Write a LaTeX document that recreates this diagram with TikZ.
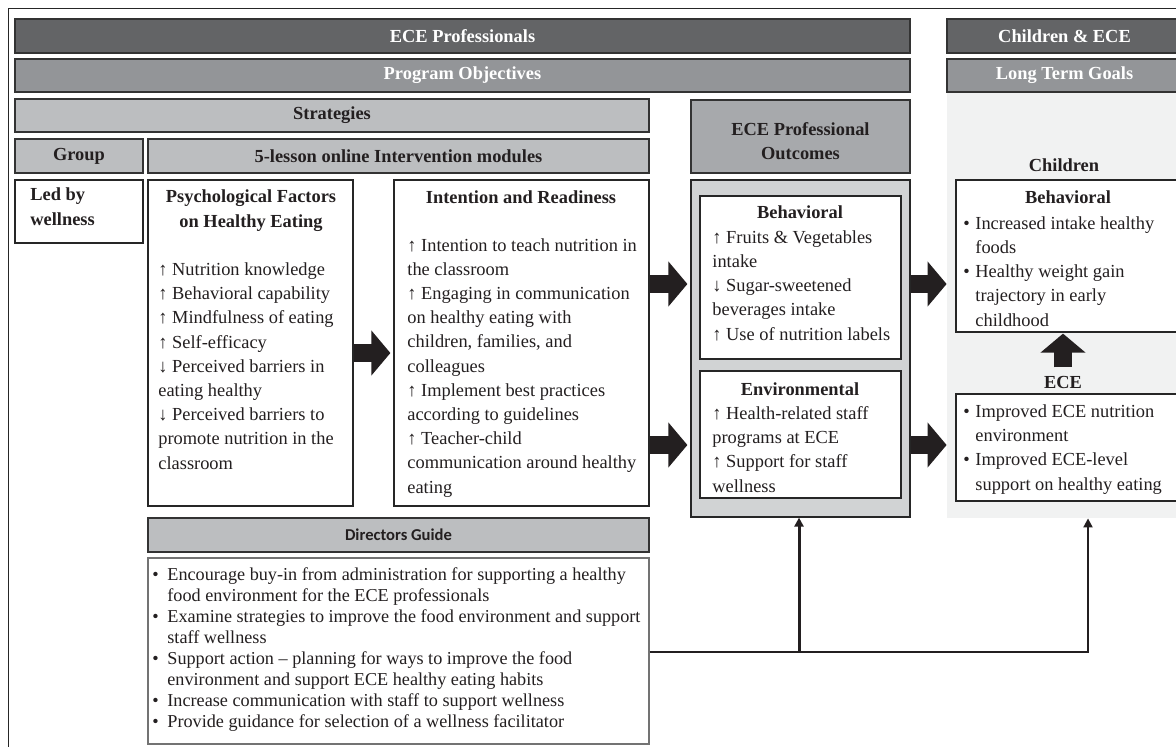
\documentclass[tikz,border=0pt]{standalone}
\usepackage{fontspec}
\setmainfont{Liberation Serif}
\newfontfamily\guidefont{Carlito}
\usepackage{tikz}
\usetikzlibrary{fit,arrows.meta}
\definecolor{bardark}{RGB}{99,100,102}
\definecolor{barmid}{RGB}{147,149,152}
\definecolor{barlight}{RGB}{188,190,192}
\definecolor{bartitle}{RGB}{167,169,172}
\definecolor{outfill}{RGB}{209,211,212}
\definecolor{goalfill}{RGB}{241,242,242}
\definecolor{ink}{RGB}{35,31,32}
\newcommand\bitem{\makebox[7.5pt][l]{•}}
\newcommand\bskip{\hspace*{7.5pt}}
\newcommand\citem{\makebox[6pt][l]{•}}
\newcommand\cskip{\hspace*{6pt}}
\begin{document}
\fontsize{9.2pt}{12.1pt}\selectfont
\begin{tikzpicture}[x=0.5pt, y=-0.5pt, text=ink,
  bar/.style={draw=black!80, line width=0.8pt, inner sep=0pt},
  darkbar/.style={bar, fill=bardark},
  midbar/.style={bar, fill=barmid},
  lightbar/.style={bar, fill=barlight},
  bartext/.style={inner sep=0pt, font=\bfseries},
  whitetext/.style={bartext, text=white},
  panel/.style={draw=black!85, line width=0.6pt, fill=white, inner sep=0pt},
  body/.style={anchor=base west, align=left, inner sep=0pt},
  title/.style={anchor=base, align=center, inner sep=0pt, font=\bfseries},
  blockarrow/.style={draw=ink, line width=9pt, -{Triangle[width=22pt,length=9.5pt]}},
  link/.style={draw=ink, line width=1pt, -{Triangle[width=4.5pt,length=4.5pt]}}]
\useasboundingbox (0,0) rectangle (1176,746);
\clip (0,0) rectangle (1176,746);
\draw[black!85, line width=0.5pt] (8,8) rectangle (1190,760);

\node[fill=goalfill, inner sep=0pt, fit={(947,92) (1182,518)}] (region) {};
\node[darkbar, fit={(15,19) (910,53)}, label={[whitetext]center:ECE Professionals}] (prof) {};
\node[darkbar, fit={(947,19) (1182,53)}, label={[whitetext]center:Children \& ECE}] (kids) {};
\node[midbar, fit={(15,59) (910,92)}, label={[whitetext]center:Program Objectives}] (objectives) {};
\node[midbar, fit={(947,59) (1182,92)}, label={[whitetext]center:Long Term Goals}] (goals) {};
\node[lightbar, fit={(15,99) (649,132)}, label={[bartext]center:Strategies}] (strategies) {};
\node[bar, fill=bartitle, fit={(691,100) (910,173)}, label={[bartext, align=center, yshift=-2.5pt]center:{ECE Professional\\Outcomes}}] (outtitle) {};
\node[lightbar, fit={(15,139) (143,173)}, label={[bartext]center:Group}] (group) {};
\node[lightbar, fit={(148,139) (649,173)}, label={[bartext]center:5-lesson online Intervention modules}] (modules) {};

% multi-line texts sit on the baseline of their last line
\node[panel, fit={(15,180) (143,243)}] (ledby) {};
\node[body, font=\bfseries] (ledtext) at (30,225) {Led by\\wellness};

\node[panel, fit={(148,180) (353,506)}] (psych) {};
\node[title] (psychtitle) at (251,227) {Psychological Factors\\on Healthy Eating};
\node[body] (psychtext) at (158,469) {↑ Nutrition knowledge\\↑ Behavioral capability\\↑ Mindfulness of eating\\↑ Self-efficacy\\↓ Perceived barriers in\\eating healthy\\↓ Perceived barriers to\\promote nutrition in the\\classroom};

\node[panel, fit={(394,180) (649,506)}] (intent) {};
\node[title] (intenttitle) at (521,203) {Intention and Readiness};
\node[body] (intenttext) at (407,493) {↑ Intention to teach nutrition in\\the classroom\\↑ Engaging in communication\\on healthy eating with\\children, families, and\\colleagues\\↑ Implement best practices\\according to guidelines\\↑ Teacher-child\\communication around healthy\\eating};

\node[panel, fill=outfill, fit={(691,180) (910,517)}] (outcomes) {};
\node[panel, fit={(700,196) (901,359)}] (behav) {};
\node[title] (behavtitle) at (800,218) {Behavioral};
\node[body] (behavtext) at (712,340) {↑ Fruits \& Vegetables\\intake\\↓ Sugar-sweetened\\beverages intake\\↑ Use of nutrition labels};
\node[panel, fit={(700,371) (901,498)}] (environ) {};
\node[title] (environtitle) at (800,395) {Environmental};
\node[body] (environtext) at (712,492) {↑ Health-related staff\\programs at ECE\\↑ Support for staff\\wellness};

\node[title] (childlbl) at (1064,171) {Children};
\node[panel, fit={(956,180) (1182,332)}] (childbeh) {};
\node[title] (childtitle) at (1068,203) {Behavioral};
\node[body] (childtext) at (963,326) {\citem Increased intake healthy\\\cskip foods\\\citem Healthy weight gain\\\cskip trajectory in early\\\cskip childhood};
\node[title] (ecelbl) at (1063,388) {ECE};
\node[panel, fit={(956,394) (1182,501)}] (ecebox) {};
\node[body] (ecetext) at (963,490) {\citem Improved ECE nutrition\\\cskip environment\\\citem Improved ECE-level\\\cskip support on healthy eating};

\node[lightbar, fit={(148,518) (649,552)}, label={[inner sep=0pt, font=\guidefont\bfseries\fontsize{8.3pt}{10pt}\selectfont]center:Directors Guide}] (guide) {};
\node[panel, draw=black!55, fit={(148,558) (649,744)}] (guidebox) {};
\node[body, font=\fontsize{9.1pt}{10.5pt}\selectfont] (guidetext) at (152,727) {\bitem Encourage buy-in from administration for supporting a healthy\\\bskip food environment for the ECE professionals\\\bitem Examine strategies to improve the food environment and support\\\bskip staff wellness\\\bitem Support action -- planning for ways to improve the food\\\bskip environment and support ECE healthy eating habits\\\bitem Increase communication with staff to support wellness\\\bitem Provide guidance for selection of a wellness facilitator};

\coordinate (midrow) at (0,353);
\coordinate (toprow) at (0,284);
\coordinate (lowrow) at (0,445);
\draw[blockarrow, shorten >=1.5pt] (psych.east |- midrow) -- (intent.west |- midrow);
\draw[blockarrow, shorten >=1.5pt] (intent.east |- toprow) -- (outcomes.west |- toprow);
\draw[blockarrow, shorten >=1.5pt] (intent.east |- lowrow) -- (outcomes.west |- lowrow);
\draw[blockarrow] (outcomes.east |- toprow) -- (region.west |- toprow);
\draw[blockarrow] (outcomes.east |- lowrow) -- (region.west |- lowrow);
\draw[blockarrow, shorten <=4pt, shorten >=0.5pt] (ecelbl.north) -- (ecelbl.north |- childbeh.south);

\coordinate (split) at (799,652);
\coordinate (turn) at (1088,652);
\draw[link] (guidebox.east |- split) -- (turn) -- (turn |- region.south);
\draw[link, line width=1.5pt] (split) -- (split |- outcomes.south);
\end{tikzpicture}
\end{document}
